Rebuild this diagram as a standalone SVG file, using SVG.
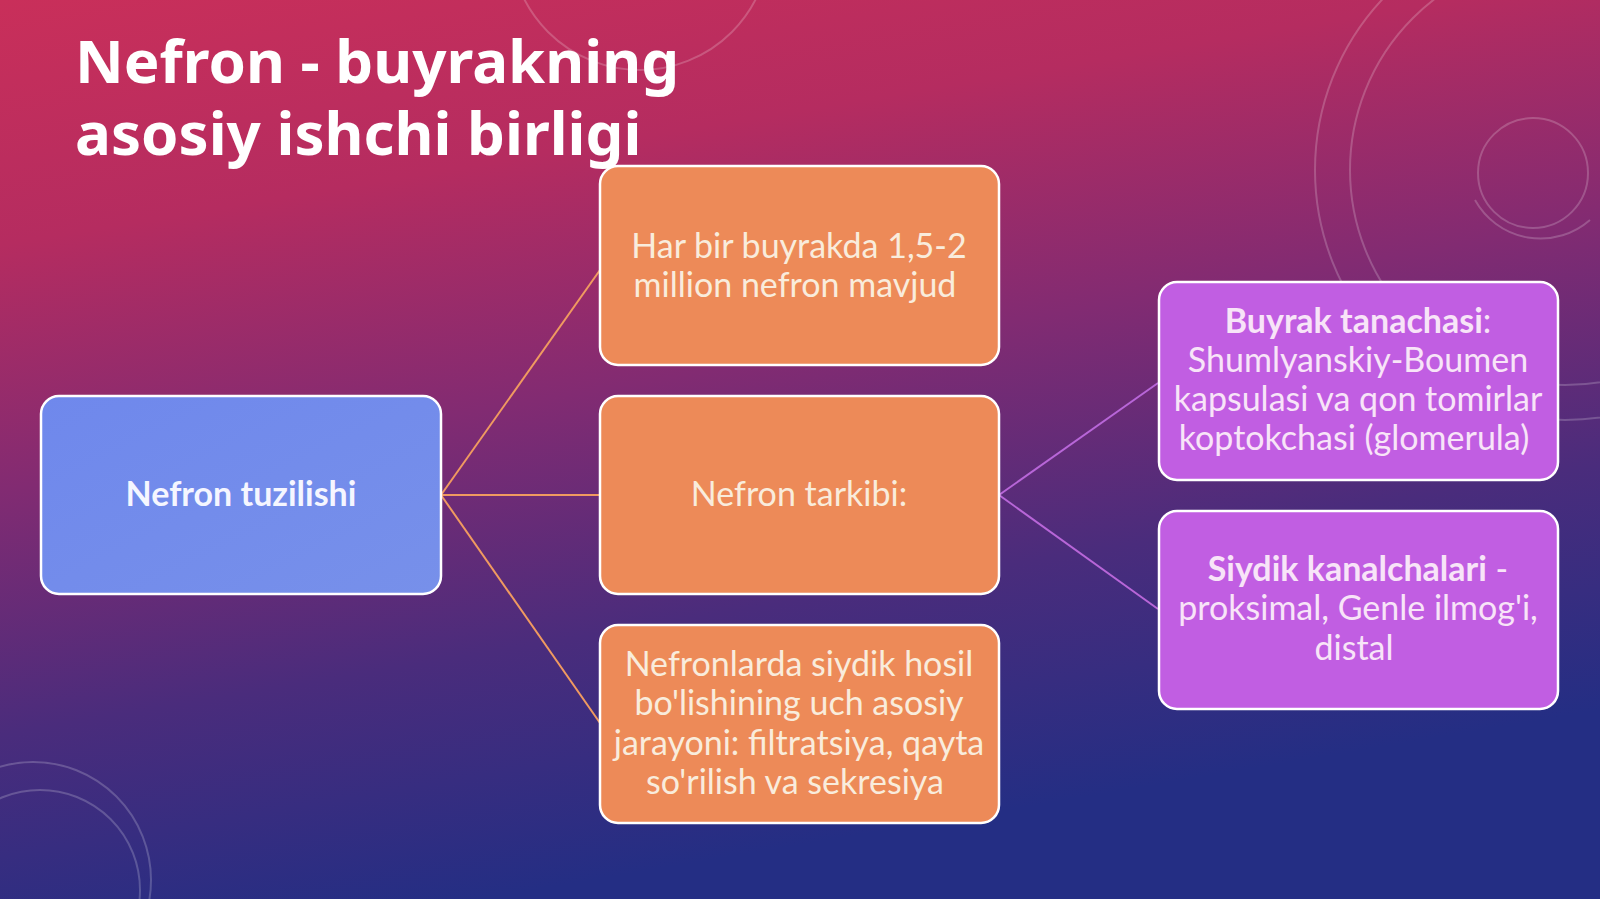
<svg xmlns="http://www.w3.org/2000/svg" width="1600" height="899" viewBox="0 0 1600 899">
<defs>
<linearGradient id="bg" x1="0" y1="0" x2="0.3" y2="1">
<stop offset="0" stop-color="#c92f5a"/>
<stop offset="0.25" stop-color="#b52c60"/>
<stop offset="0.5" stop-color="#822b72"/>
<stop offset="0.75" stop-color="#4a2c7c"/>
<stop offset="1" stop-color="#242e84"/>
</linearGradient>
<linearGradient id="gBlue" x1="0" y1="0" x2="1" y2="1">
<stop offset="0" stop-color="#6f88ec"/>
<stop offset="1" stop-color="#7790ea"/>
</linearGradient>
<style>
.deco{fill:none;stroke:#ffffff;stroke-opacity:0.2;stroke-width:2}
.box{stroke:#ffffff;stroke-width:2.5}
.blue{fill:url(#gBlue)}
.orange{fill:#ed8a58}
.purple{fill:#c15ee2}
.txt{font-family:Lato,"Liberation Sans",sans-serif;font-size:34px;text-anchor:middle}
.ot{fill:#f9ecdc}
.pt{fill:#f8e4f8}
.bt{fill:#f5f6ff;font-weight:bold}
.b{font-weight:bold}
.title{font-family:"Noto Sans","Open Sans","Liberation Sans",sans-serif;font-weight:bold;font-size:60px;fill:#ffffff}
.lo{stroke:#f09a60;stroke-width:2;fill:none}
.lp{stroke:#b866d8;stroke-width:2;fill:none}
</style>
</defs>
<rect x="0" y="0" width="1600" height="899" fill="url(#bg)"/>
<g id="decor">
<circle class="deco" cx="1565" cy="170" r="250"/>
<circle class="deco" cx="1565" cy="170" r="215"/>
<circle class="deco" cx="1533" cy="173" r="55"/>
<path class="deco" d="M1475 200 A75 75 0 0 0 1590 220" stroke-opacity="0.12"/>
<circle class="deco" cx="33" cy="880" r="118" stroke-opacity="0.14"/>
<circle class="deco" cx="40" cy="890" r="100"/>
<circle class="deco" cx="640" cy="-60" r="130" stroke-opacity="0.07"/>
</g>
<g id="title">
<text class="title" x="75" y="83">Nefron - buyrakning<tspan x="75" y="155">asosiy ishchi birligi</tspan></text>
</g>
<g id="connectors">
<line class="lo" x1="441" y1="495" x2="600" y2="270"/>
<line class="lo" x1="441" y1="495" x2="600" y2="495"/>
<line class="lo" x1="441" y1="495" x2="600" y2="723"/>
<line class="lp" x1="999" y1="495" x2="1158" y2="383"/>
<line class="lp" x1="999" y1="495" x2="1158" y2="609"/>
</g>
<g id="node-nefron-tuzilishi">
<rect class="box blue" x="41" y="396" width="400" height="198" rx="18"/>
<text class="txt bt" x="241" y="506">Nefron tuzilishi</text>
</g>
<g id="node-har-bir">
<rect class="box orange" x="600" y="166" width="399" height="199" rx="18"/>
<text class="txt ot" x="799" y="258">Har bir buyrakda 1,5-2</text>
<text class="txt ot" x="795" y="297">million nefron mavjud</text>
</g>
<g id="node-nefron-tarkibi">
<rect class="box orange" x="600" y="396" width="399" height="198" rx="18"/>
<text class="txt ot" x="799" y="506">Nefron tarkibi:</text>
</g>
<g id="node-jarayon">
<rect class="box orange" x="600" y="625" width="399" height="198" rx="18"/>
<text class="txt ot" x="799" y="676">Nefronlarda siydik hosil</text>
<text class="txt ot" x="799" y="715">bo'lishining uch asosiy</text>
<text class="txt ot" x="799" y="755">jarayoni: filtratsiya, qayta</text>
<text class="txt ot" x="795" y="794">so'rilish va sekresiya</text>
</g>
<g id="node-buyrak-tanachasi">
<rect class="box purple" x="1159" y="282" width="399" height="198" rx="18"/>
<text class="txt pt" x="1358" y="333"><tspan class="b">Buyrak tanachasi</tspan>:</text>
<text class="txt pt" x="1358" y="372">Shumlyanskiy-Boumen</text>
<text class="txt pt" x="1358" y="411">kapsulasi va qon tomirlar</text>
<text class="txt pt" x="1354" y="450">koptokchasi (glomerula)</text>
</g>
<g id="node-siydik-kanalchalari">
<rect class="box purple" x="1159" y="511" width="399" height="198" rx="18"/>
<text class="txt pt" x="1358" y="581"><tspan class="b">Siydik kanalchalari</tspan> -</text>
<text class="txt pt" x="1358" y="620">proksimal, Genle ilmog'i,</text>
<text class="txt pt" x="1354" y="660">distal</text>
</g>
</svg>
